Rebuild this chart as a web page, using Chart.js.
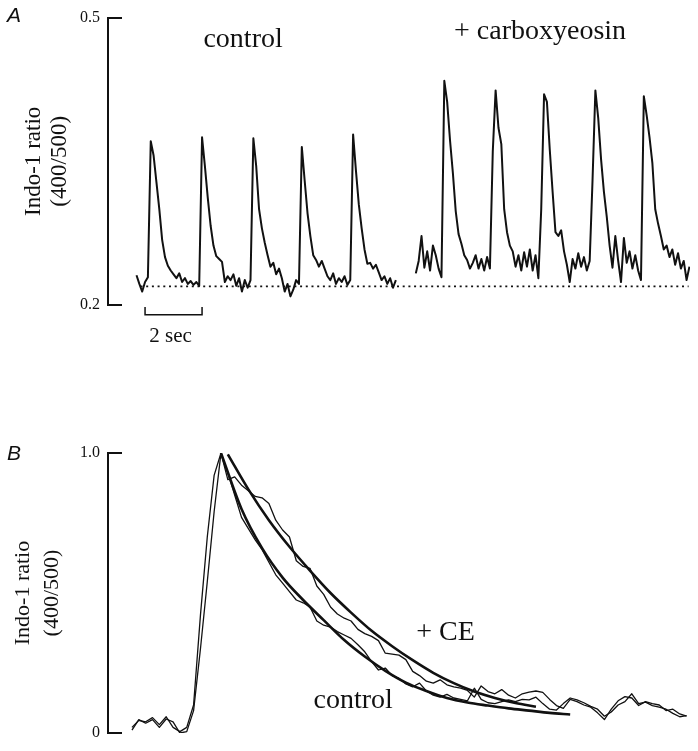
<!DOCTYPE html>
<html>
<head>
<meta charset="utf-8">
<script src="https://cdn.jsdelivr.net/npm/chart.js@4.4.0/dist/chart.umd.min.js"></script>
<style>
  body { margin: 0; background: #fff; }
  #wrap { position: relative; width: 698px; height: 751px; }
  canvas { position: absolute; left: 0; }
  #chartA { top: 0; }
  #chartB { top: 390px; }
</style>
</head>
<body>
<div id="wrap">
  <canvas id="chartA" width="698" height="390"></canvas>
  <canvas id="chartB" width="698" height="361"></canvas>
</div>
<script>
// Panel A: indo-1 ratio traces, sampled every 0.1 s
const dtA = 0.1;
const ctrlStartA = 0;
const ceStartA = 9.8;
const ctrlA = [
  0.231, 0.222, 0.214, 0.224, 0.229, 0.371, 0.356, 0.328, 0.300, 0.268,
  0.250, 0.241, 0.236, 0.232, 0.228, 0.233, 0.224, 0.228, 0.222, 0.225,
  0.221, 0.224, 0.220, 0.375, 0.345, 0.312, 0.283, 0.262, 0.251, 0.248,
  0.245, 0.224, 0.230, 0.226, 0.232, 0.220, 0.228, 0.214, 0.226, 0.218,
  0.226, 0.374, 0.345, 0.300, 0.280, 0.265, 0.252, 0.240, 0.244, 0.232,
  0.238, 0.228, 0.214, 0.222, 0.209, 0.216, 0.226, 0.222, 0.365, 0.330,
  0.296, 0.272, 0.252, 0.247, 0.240, 0.246, 0.238, 0.230, 0.226, 0.233,
  0.222, 0.228, 0.224, 0.230, 0.221, 0.226, 0.378, 0.340, 0.305, 0.280,
  0.258, 0.243, 0.244, 0.238, 0.242, 0.234, 0.226, 0.230, 0.222, 0.228,
  0.218, 0.226
];
const ceA = [
  0.233, 0.246, 0.272, 0.239, 0.256, 0.236, 0.262, 0.252, 0.238, 0.229,
  0.434, 0.412, 0.372, 0.338, 0.298, 0.274, 0.264, 0.252, 0.247, 0.238,
  0.244, 0.252, 0.238, 0.248, 0.236, 0.250, 0.238, 0.360, 0.424, 0.385,
  0.368, 0.300, 0.276, 0.262, 0.256, 0.240, 0.252, 0.236, 0.255, 0.240,
  0.258, 0.236, 0.252, 0.228, 0.300, 0.420, 0.412, 0.362, 0.318, 0.276,
  0.272, 0.278, 0.256, 0.242, 0.224, 0.248, 0.238, 0.254, 0.240, 0.250,
  0.236, 0.246, 0.330, 0.424, 0.395, 0.352, 0.318, 0.292, 0.262, 0.239,
  0.272, 0.246, 0.224, 0.270, 0.244, 0.256, 0.238, 0.252, 0.236, 0.226,
  0.418, 0.398, 0.375, 0.348, 0.300, 0.285, 0.272, 0.258, 0.262, 0.250,
  0.258, 0.242, 0.254, 0.238, 0.246, 0.226, 0.240
];
const restA = 0.2195;
const restSpanA = [0.14, 19.37];
const ticksA = [0.2, 0.5];

// Panel B: normalised transients, sampled every 20 ms, plus fitted decays
const dtB = 20;
const traceStartB = 70;
const ctrlB = [
  0.010, 0.048, 0.035, 0.048, 0.020, 0.050, 0.040, 0.000, 0.005, 0.080,
  0.300, 0.540, 0.790, 1.000, 0.930, 0.850, 0.770, 0.730, 0.690, 0.655,
  0.610, 0.565, 0.535, 0.505, 0.475, 0.465, 0.450, 0.400, 0.385, 0.378,
  0.362, 0.350, 0.338, 0.315, 0.290, 0.255, 0.225, 0.232, 0.205, 0.195,
  0.175, 0.165, 0.178, 0.150, 0.135, 0.128, 0.138, 0.125, 0.120, 0.115,
  0.160, 0.120, 0.108, 0.105, 0.112, 0.118, 0.112, 0.120, 0.118, 0.128,
  0.105, 0.085, 0.082, 0.105, 0.125, 0.118, 0.108, 0.095, 0.085, 0.060,
  0.075, 0.100, 0.112, 0.140, 0.105, 0.110, 0.098, 0.092, 0.085, 0.070,
  0.058, 0.062
];
const ceB = [
  0.020, 0.045, 0.040, 0.055, 0.030, 0.058, 0.020, 0.005, 0.020, 0.100,
  0.420, 0.700, 0.920, 1.000, 0.905, 0.915, 0.885, 0.865, 0.845, 0.840,
  0.820, 0.760, 0.725, 0.700, 0.615, 0.595, 0.588, 0.525, 0.495, 0.450,
  0.425, 0.410, 0.400, 0.370, 0.355, 0.345, 0.330, 0.285, 0.282, 0.278,
  0.262, 0.220, 0.205, 0.185, 0.178, 0.190, 0.172, 0.165, 0.160, 0.152,
  0.128, 0.168, 0.148, 0.140, 0.155, 0.135, 0.125, 0.140, 0.146, 0.150,
  0.145, 0.120, 0.098, 0.088, 0.120, 0.112, 0.100, 0.092, 0.072, 0.048,
  0.085, 0.115, 0.130, 0.125, 0.098, 0.112, 0.105, 0.100, 0.080, 0.085,
  0.068, 0.060
];
const fitStep = 60;
const ctrlFitStart = 330;
const ctrlFit = [1.0, 0.80, 0.66, 0.555, 0.475, 0.403, 0.332, 0.273, 0.222, 0.18,
  0.15, 0.125, 0.109, 0.098, 0.088, 0.08, 0.072, 0.066];
const ceFitStart = 350;
const ceFit = [0.995, 0.87, 0.76, 0.665, 0.58, 0.50, 0.43, 0.365, 0.31, 0.26,
  0.215, 0.178, 0.148, 0.125, 0.107, 0.094];
const ticksB = [0, 1.0];

const ink = '#111';
const serif = '"Liberation Serif", "Times New Roman", serif';

function series(values, start, step) {
  return values.map((v, i) => ({ x: start + i * step, y: v }));
}

// inward tick marks, panel letter, in-plot labels and the time bar
const panelDecor = {
  id: 'panelDecor',
  afterDatasetsDraw(chart, args, opts) {
    const { ctx, chartArea, scales: { x, y } } = chart;
    ctx.save();
    ctx.strokeStyle = ink;
    ctx.fillStyle = ink;
    ctx.lineWidth = 2;
    y.ticks.forEach((t) => {
      const py = Math.round(y.getPixelForValue(t.value));
      ctx.beginPath();
      ctx.moveTo(chartArea.left, py);
      ctx.lineTo(chartArea.left + 14, py);
      ctx.stroke();
    });
    ctx.font = 'italic 21px "Liberation Sans", Arial, sans-serif';
    ctx.textAlign = 'left';
    ctx.textBaseline = 'alphabetic';
    ctx.fillText(opts.letter, 7, opts.letterY);
    ctx.font = '28px ' + serif;
    ctx.textAlign = 'center';
    opts.labels.forEach((l) => {
      ctx.fillText(l.text, x.getPixelForValue(l.x), y.getPixelForValue(l.y));
    });
    if (opts.bar) {
      const b = opts.bar;
      const x0 = x.getPixelForValue(b.x0);
      const x1 = x.getPixelForValue(b.x1);
      const yb = y.getPixelForValue(b.y);
      const yt = y.getPixelForValue(b.tickTop);
      ctx.lineWidth = 1.5;
      ctx.beginPath();
      ctx.moveTo(x0, yt); ctx.lineTo(x0, yb); ctx.lineTo(x1, yb); ctx.lineTo(x1, yt);
      ctx.stroke();
      ctx.font = '21px ' + serif;
      ctx.fillText(b.text, (x0 + x1) / 2 - 3, y.getPixelForValue(b.textY));
    }
    ctx.restore();
  }
};

function yAxis(min, max, tickVals, fmt, titleSize, titleLH, titlePad) {
  return {
    type: 'linear',
    min: min,
    max: max,
    afterBuildTicks: (s) => { s.ticks = tickVals.map((v) => ({ value: v })); },
    afterFit: (s) => { s.width = 108; },
    grid: { display: false, drawTicks: false },
    border: { display: true, color: ink, width: 2 },
    ticks: { color: ink, padding: 8, font: { family: serif, size: 16 }, callback: fmt },
    title: {
      display: true,
      text: ['Indo-1 ratio', '(400/500)'],
      color: ink,
      font: { family: serif, size: titleSize, lineHeight: titleLH },
      padding: { top: titlePad, bottom: 0 }
    }
  };
}

const traceStyle = { borderColor: ink, borderWidth: 2, pointRadius: 0, tension: 0, fill: false, borderJoinStyle: 'round' };

new Chart(document.getElementById('chartA'), {
  type: 'line',
  data: {
    datasets: [
      { ...traceStyle, label: 'rest', data: [{ x: restSpanA[0], y: restA }, { x: restSpanA[1], y: restA }],
        borderWidth: 1.8, borderDash: [2, 3.7], borderJoinStyle: 'miter' },
      { ...traceStyle, label: 'control', data: series(ctrlA, ctrlStartA, dtA) },
      { ...traceStyle, label: '+ carboxyeosin', data: series(ceA, ceStartA, dtA) }
    ]
  },
  options: {
    responsive: false,
    animation: false,
    devicePixelRatio: 1,
    layout: { padding: { top: 13, bottom: 85, left: 0, right: 8 } },
    scales: {
      x: { type: 'linear', min: -1.0, max: 19.42, display: false },
      y: yAxis(0.2, 0.5, ticksA, (v) => v.toFixed(1), 23, 1.13, 21)
    },
    plugins: {
      legend: { display: false },
      tooltip: { enabled: false },
      panelDecor: {
        letter: 'A',
        letterY: 22,
        labels: [
          { text: 'control', x: 3.74, y: 0.469 },
          { text: '+ carboxyeosin', x: 14.16, y: 0.4773 }
        ],
        bar: { x0: 0.3, x1: 2.3, y: 0.1897, tickTop: 0.198, text: '2 sec', textY: 0.161 }
      }
    }
  },
  plugins: [panelDecor]
});

const fitStyle = { borderColor: ink, borderWidth: 2.6, pointRadius: 0, cubicInterpolationMode: 'monotone', fill: false };

new Chart(document.getElementById('chartB'), {
  type: 'line',
  data: {
    datasets: [
      { ...traceStyle, borderWidth: 1.3, label: 'control', data: series(ctrlB, traceStartB, dtB) },
      { ...traceStyle, borderWidth: 1.3, label: '+ CE', data: series(ceB, traceStartB, dtB) },
      { ...fitStyle, label: 'control fit', data: series(ctrlFit, ctrlFitStart, fitStep) },
      { ...fitStyle, label: '+ CE fit', data: series(ceFit, ceFitStart, fitStep) }
    ]
  },
  options: {
    responsive: false,
    animation: false,
    devicePixelRatio: 1,
    layout: { padding: { top: 63, bottom: 18, left: 0, right: 8 } },
    scales: {
      x: { type: 'linear', min: 0, max: 1700, display: false },
      y: yAxis(0, 1.0, ticksB, (v) => (v === 0 ? '0' : v.toFixed(1)), 22, 1.32, 9)
    },
    plugins: {
      legend: { display: false },
      tooltip: { enabled: false },
      panelDecor: {
        letter: 'B',
        letterY: 70,
        labels: [
          { text: '+ CE', x: 986, y: 0.332 },
          { text: 'control', x: 716, y: 0.088 }
        ]
      }
    }
  },
  plugins: [panelDecor]
});
</script>
</body>
</html>
